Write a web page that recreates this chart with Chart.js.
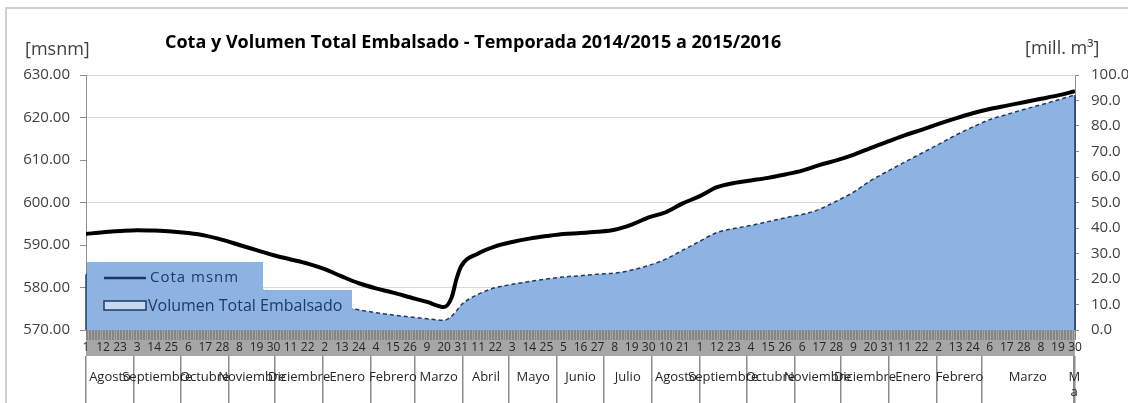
<!DOCTYPE html>
<html lang="es">
<head>
<meta charset="utf-8">
<title>Cota y Volumen Total Embalsado</title>
<script src="https://cdn.jsdelivr.net/npm/chart.js@4.4.1/dist/chart.umd.min.js"></script>
<style>
  html, body { margin: 0; padding: 0; background: #fff; }
  #contenedor { position: relative; width: 1128px; height: 403px; }
</style>
</head>
<body>
<div id="contenedor"><canvas id="grafico" width="1128" height="403"></canvas></div>
<script>
// Días contados desde el 1 de agosto de 2014
const dias = [0, 11, 22, 33, 44, 55, 66, 77, 88, 99, 110, 121, 132, 143, 154, 165, 176, 187, 198, 209, 220, 231,
  236, 239, 242, 253, 264, 275, 286, 297, 308, 319, 330, 341, 352, 363, 374, 385, 396, 407, 418, 429, 440,
  451, 462, 473, 484, 495, 506, 517, 528, 539, 550, 561, 572, 583, 594, 605, 616, 627, 638];

// Cota del embalse [msnm]
const cota = [592.6, 593.0, 593.3, 593.5, 593.4, 593.2, 592.8, 592.2, 591.2, 590.0, 588.8, 587.6, 586.6, 585.6,
  584.3, 582.6, 581.0, 579.8, 578.8, 577.7, 576.6, 575.4, 577.8, 582.0, 585.0, 588.0, 589.7, 590.7, 591.5,
  592.1, 592.6, 592.8, 593.1, 593.6, 594.8, 596.5, 597.7, 599.8, 601.5, 603.6, 604.6, 605.2, 605.8, 606.6,
  607.5, 608.8, 609.9, 611.2, 612.8, 614.3, 615.8, 617.1, 618.5, 619.8, 621.0, 622.0, 622.8, 623.6, 624.4,
  625.2, 626.2];

// Volumen total embalsado [mill. m3]
const volumen = [21.8, 22.2, 22.5, 22.7, 22.6, 22.3, 21.7, 20.7, 19.4, 17.9, 16.3, 14.9, 13.5, 12.2, 10.8, 9.2,
  7.9, 6.8, 5.9, 5.1, 4.4, 3.8, 5.5, 7.5, 9.8, 14.0, 16.6, 17.9, 19.0, 20.0, 20.8, 21.3, 21.9, 22.3, 23.5,
  25.3, 27.8, 31.3, 34.8, 38.2, 39.8, 41.0, 42.5, 44.0, 45.3, 47.3, 50.5, 54.0, 58.5, 62.2, 65.8, 69.3, 72.8,
  76.4, 79.6, 82.5, 84.5, 86.5, 88.3, 90.2, 92.2];

// Etiquetas de día, una cada 11 días
const etiquetasDia = ['1', '12', '23', '3', '14', '25', '6', '17', '28', '8', '19', '30', '11', '22', '2', '13',
  '24', '4', '15', '26', '9', '20', '31', '11', '22', '3', '14', '25', '5', '16', '27', '8', '19', '30', '10',
  '21', '1', '12', '23', '4', '15', '26', '6', '17', '28', '9', '20', '31', '11', '22', '2', '13', '24', '6',
  '17', '28', '8', '19', '30'];

const meses = ['Agosto', 'Septiembre', 'Octubre', 'Noviembre', 'Diciembre', 'Enero', 'Febrero', 'Marzo', 'Abril',
  'Mayo', 'Junio', 'Julio', 'Agosto', 'Septiembre', 'Octubre', 'Noviembre', 'Diciembre', 'Enero', 'Febrero',
  'Marzo', ['M', 'a']];
// Día en que empieza cada mes; el último valor cierra el eje
const inicioMes = [0, 31, 61, 92, 122, 153, 184, 212, 243, 273, 304, 334, 365, 396, 426, 457, 487, 518, 549,
  578, 637, 638];

const DIA_MAX = 638;
const AZUL = '#8db3e2';
const AZUL_OSCURO = '#1f3864';
const GRIS_TEXTO = '#404040';
const FUENTE = "'Open Sans', 'Liberation Sans', sans-serif";

Chart.defaults.font.family = FUENTE;
Chart.defaults.color = GRIS_TEXTO;

// Marco, títulos, bordes laterales del área y leyenda
const decoracion = {
  id: 'decoracion',
  beforeDraw(chart) {
    const ctx = chart.ctx;
    ctx.save();
    ctx.strokeStyle = '#d0d0d0';
    ctx.lineWidth = 2;
    ctx.beginPath();
    ctx.moveTo(6, 403);
    ctx.lineTo(6, 8);
    ctx.lineTo(1128, 8);
    ctx.stroke();
    ctx.restore();
  },
  afterDatasetsDraw(chart) {
    const ctx = chart.ctx;
    const sx = chart.scales.x;
    const sy = chart.scales.y1;
    ctx.save();
    // bordes verticales del área de volumen (como en Excel)
    ctx.strokeStyle = AZUL_OSCURO;
    ctx.lineWidth = 1.5;
    [0, dias.length - 1].forEach(i => {
      const px = sx.getPixelForValue(dias[i]);
      ctx.beginPath();
      ctx.moveTo(px, sy.getPixelForValue(0));
      ctx.lineTo(px, sy.getPixelForValue(volumen[i]));
      ctx.stroke();
    });
    // fondo de la leyenda
    ctx.fillStyle = AZUL;
    ctx.fillRect(87, 262, 176, 28);
    ctx.fillRect(87, 290, 265, 40);
    // linea de cota
    ctx.strokeStyle = AZUL_OSCURO;
    ctx.lineWidth = 2.5;
    ctx.beginPath();
    ctx.moveTo(104, 278);
    ctx.lineTo(146, 278);
    ctx.stroke();
    // muestra de volumen
    ctx.fillStyle = '#c6d9f1';
    ctx.fillRect(104, 301, 42, 9);
    ctx.lineWidth = 1.5;
    ctx.strokeRect(104, 301, 42, 9);
    ctx.fillStyle = AZUL_OSCURO;
    ctx.textBaseline = 'middle';
    ctx.font = '15px ' + FUENTE;
    ctx.letterSpacing = '1px';
    ctx.fillText('Cota msnm', 150, 278);
    ctx.letterSpacing = '0px';
    ctx.font = '16px ' + FUENTE;
    ctx.fillText('Volumen Total Embalsado', 148, 306);
    ctx.restore();
  },
  afterDraw(chart) {
    const ctx = chart.ctx;
    ctx.save();
    ctx.textBaseline = 'middle';
    ctx.fillStyle = '#000';
    ctx.font = 'bold 18px ' + FUENTE;
    ctx.fillText('Cota y Volumen Total Embalsado - Temporada 2014/2015 a 2015/2016', 165, 43);
    ctx.fillStyle = GRIS_TEXTO;
    ctx.font = '18px ' + FUENTE;
    ctx.fillText('[msnm]', 25, 50);
    ctx.fillText('[mill. m³]', 1025, 49);
    ctx.restore();
  }
};

new Chart(document.getElementById('grafico'), {
  type: 'line',
  data: {
    datasets: [
      {
        label: 'Cota msnm',
        data: dias.map((d, i) => ({ x: d, y: cota[i] })),
        xAxisID: 'x',
        yAxisID: 'y',
        borderColor: '#000',
        borderWidth: 4,
        pointRadius: 0,
        fill: false,
        cubicInterpolationMode: 'monotone',
        order: 0
      },
      {
        label: 'Volumen Total Embalsado',
        data: dias.map((d, i) => ({ x: d, y: volumen[i] })),
        xAxisID: 'x',
        yAxisID: 'y1',
        borderColor: AZUL_OSCURO,
        borderWidth: 1.5,
        borderDash: [4, 3],
        backgroundColor: AZUL,
        fill: 'origin',
        pointRadius: 0,
        cubicInterpolationMode: 'monotone',
        order: 1
      }
    ]
  },
  options: {
    responsive: false,
    animation: false,
    events: [],
    layout: { padding: { top: 75, left: 0, right: 0, bottom: 0 } },
    plugins: {
      legend: { display: false },
      title: { display: false },
      tooltip: { enabled: false }
    },
    scales: {
      y: {
        position: 'left',
        min: 570,
        max: 630,
        ticks: { stepSize: 10, padding: 10, color: GRIS_TEXTO, font: { size: 15 }, callback: v => v.toFixed(2) },
        grid: {
          color: c => (c.tick && ((c.tick.value - 580) % 20 === 0 || c.tick.value === 630)) ? '#d9d9d9' : 'rgba(0,0,0,0)',
          tickColor: '#8c8c8c',
          tickLength: 6
        },
        border: { color: '#8c8c8c' },
        afterFit: s => { s.width = 86; }
      },
      y1: {
        position: 'right',
        min: 0,
        max: 100,
        ticks: { stepSize: 10, padding: 12, color: GRIS_TEXTO, font: { size: 15 }, callback: v => v.toFixed(1) },
        grid: { drawOnChartArea: false, tickColor: '#8c8c8c', tickLength: 4 },
        border: { color: '#8c8c8c' },
        afterFit: s => { s.width = 53; }
      },
      x: {
        type: 'linear',
        position: 'bottom',
        min: 0,
        max: DIA_MAX,
        weight: 0,
        backgroundColor: '#a6a6a6',
        afterBuildTicks: s => {
          s.ticks = Array.from({ length: DIA_MAX + 1 }, (_, d) => ({ value: d }));
        },
        ticks: {
          autoSkip: false,
          maxRotation: 0,
          padding: 0,
          color: '#262626',
          font: { size: 12 },
          callback: v => (v % 11 === 0 ? etiquetasDia[v / 11] : '')
        },
        grid: { drawOnChartArea: false, tickLength: 10, tickColor: '#868686', lineWidth: 1 },
        border: { display: false },
        afterFit: s => { s.height = 26; }
      },
      meses: {
        type: 'linear',
        position: 'bottom',
        min: 0,
        max: DIA_MAX,
        weight: 1,
        afterBuildTicks: s => {
          const t = [];
          inicioMes.forEach((d, i) => {
            t.push({ value: d, sep: true });
            if (i < meses.length) t.push({ value: (d + inicioMes[i + 1]) / 2, nombre: meses[i] });
          });
          s.ticks = t;
        },
        ticks: {
          autoSkip: false,
          maxRotation: 0,
          padding: -34,
          color: '#262626',
          font: { size: 13 },
          callback: (v, i, t) => t[i].nombre || ''
        },
        grid: {
          drawOnChartArea: false,
          tickLength: 47,
          lineWidth: 1.5,
          tickColor: c => (c.tick && c.tick.sep ? '#8c8c8c' : 'rgba(0,0,0,0)')
        },
        border: { display: false },
        afterFit: s => { s.height = 47; }
      }
    }
  },
  plugins: [decoracion]
});
</script>
</body>
</html>
